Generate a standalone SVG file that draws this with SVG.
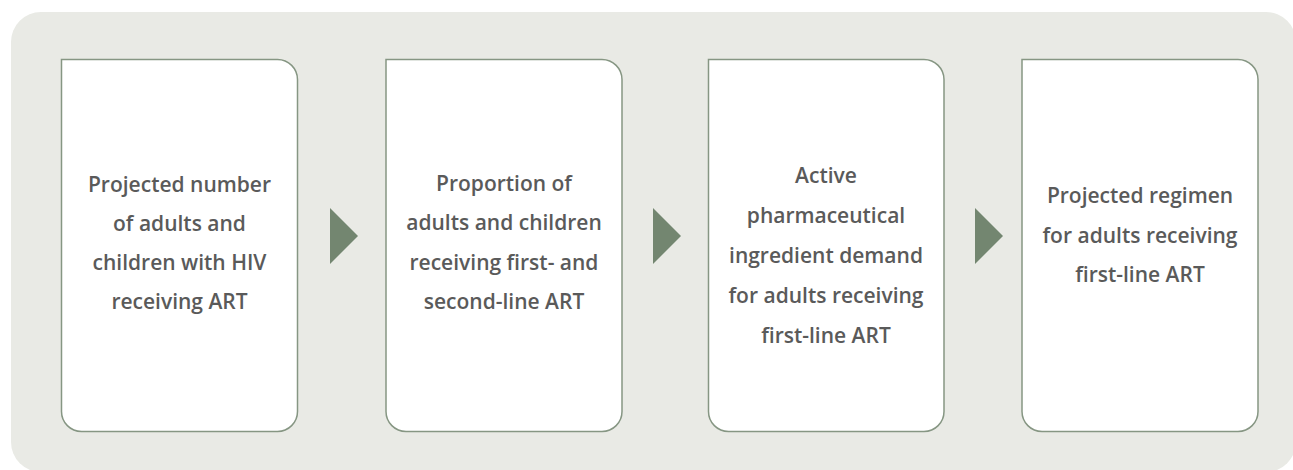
<svg xmlns="http://www.w3.org/2000/svg" width="1293" height="470" viewBox="0 0 1293 470">
<style>
.box{fill:#ffffff;stroke:#869683;stroke-width:1.5}
.lbl{font-family:"Open Sans","Noto Sans",sans-serif;font-weight:600;font-size:21px;fill:#5a5a5a;text-anchor:middle}
.arr{fill:#738670}
</style>
<rect x="11" y="12" width="1285" height="460" rx="30" ry="30" fill="#e9eae5"/>
<g id="node1">
<path class="box" d="M61.5 59.5 H277.5 A20 20 0 0 1 297.5 79.5 V411.5 A20 20 0 0 1 277.5 431.5 H81.5 A20 20 0 0 1 61.5 411.5 Z"/>
<text class="lbl" x="179.5" y="192">Projected number</text>
<text class="lbl" x="179.5" y="231">of adults and</text>
<text class="lbl" x="179.5" y="270">children with HIV</text>
<text class="lbl" x="179.5" y="309">receiving ART</text>
</g>
<g id="node2">
<path class="box" d="M386 59.5 H602 A20 20 0 0 1 622 79.5 V411.5 A20 20 0 0 1 602 431.5 H406 A20 20 0 0 1 386 411.5 Z"/>
<text class="lbl" x="504" y="191">Proportion of</text>
<text class="lbl" x="504" y="230">adults and children</text>
<text class="lbl" x="504" y="270">receiving first- and</text>
<text class="lbl" x="504" y="309">second-line ART</text>
</g>
<g id="node3">
<path class="box" d="M708.5 59.5 H924 A20 20 0 0 1 944 79.5 V411.5 A20 20 0 0 1 924 431.5 H728.5 A20 20 0 0 1 708.5 411.5 Z"/>
<text class="lbl" x="826" y="183">Active</text>
<text class="lbl" x="826" y="223">pharmaceutical</text>
<text class="lbl" x="826" y="263">ingredient demand</text>
<text class="lbl" x="826" y="303">for adults receiving</text>
<text class="lbl" x="826" y="343">first-line ART</text>
</g>
<g id="node4">
<path class="box" d="M1022 59.5 H1238 A20 20 0 0 1 1258 79.5 V411.5 A20 20 0 0 1 1238 431.5 H1042 A20 20 0 0 1 1022 411.5 Z"/>
<text class="lbl" x="1140" y="203">Projected regimen</text>
<text class="lbl" x="1140" y="243">for adults receiving</text>
<text class="lbl" x="1140" y="282">first-line ART</text>
</g>
<g id="connectors">
<polygon class="arr" points="330,208 358,236 330,264"/>
<polygon class="arr" points="653,208 681,236 653,264"/>
<polygon class="arr" points="975,208 1003,236 975,264"/>
</g>
</svg>
